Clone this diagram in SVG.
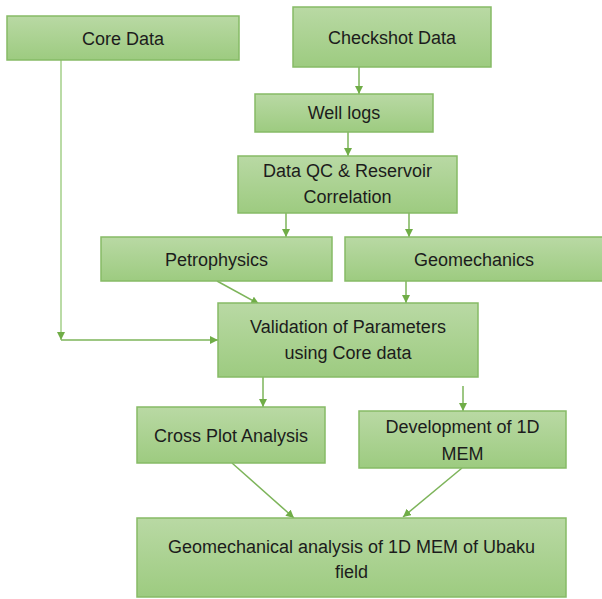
<svg xmlns="http://www.w3.org/2000/svg" width="602" height="599" viewBox="0 0 602 599">
  <defs>
    <linearGradient id="g" x1="0" y1="0" x2="0" y2="1">
      <stop offset="0" stop-color="#b9d9a4"/>
      <stop offset="1" stop-color="#9dcb80"/>
    </linearGradient>
    <marker id="ah" markerUnits="userSpaceOnUse" markerWidth="8" markerHeight="8" refX="8" refY="4" orient="auto">
      <path d="M0,0 L8,4 L0,8 z" fill="#70ad47"/>
    </marker>
    <style>
      .box { fill: url(#g); stroke: #86bb66; stroke-width: 1.5; }
      .t { font-family: "Liberation Sans", Arial, sans-serif; font-size: 18px; fill: #1c1c1c; text-anchor: middle; }
      .c { fill: none; stroke: #7db45a; stroke-width: 1.5; marker-end: url(#ah); }
      .cn { fill: none; stroke: #9fcb84; stroke-width: 2; }
    </style>
  </defs>
  <rect width="602" height="599" fill="#ffffff"/>

  <g id="connectors">
    <path class="c" d="M61,60 L61,340" style="stroke:#a3cf89"/>
    <path class="c" d="M61,340 L218,340"/>
    <path class="c" d="M359,67 L359,94"/>
    <path class="c" d="M348,132 L348,156"/>
    <path class="c" d="M286,213 L286,237"/>
    <path class="c" d="M409,213 L409,237"/>
    <path class="c" d="M217,281 L259,304"/>
    <path class="c" d="M406,281 L406,303"/>
    <path class="c" d="M263,377 L263,407"/>
    <path class="c" d="M463,386 L463,411"/>
    <path class="c" d="M232,463 L294,518"/>
    <path class="c" d="M462,468 L403,517"/>
  </g>

  <g id="core-data">
    <rect class="box" x="7" y="16" width="232" height="44"/>
    <text class="t" x="123" y="44.5">Core Data</text>
  </g>
  <g id="checkshot-data">
    <rect class="box" x="293" y="7" width="198" height="60"/>
    <text class="t" x="392" y="43.5">Checkshot Data</text>
  </g>
  <g id="well-logs">
    <rect class="box" x="255" y="94" width="178" height="38"/>
    <text class="t" x="344" y="119">Well logs</text>
  </g>
  <g id="data-qc">
    <rect class="box" x="238" y="156" width="219" height="57"/>
    <text class="t" x="347.5" y="177">Data QC &amp; Reservoir</text>
    <text class="t" x="347.5" y="203">Correlation</text>
  </g>
  <g id="petrophysics">
    <rect class="box" x="101" y="237" width="231" height="44"/>
    <text class="t" x="216.5" y="265.5">Petrophysics</text>
  </g>
  <g id="geomechanics">
    <rect class="box" x="345" y="237" width="258" height="44"/>
    <text class="t" x="474" y="265.5">Geomechanics</text>
  </g>
  <g id="validation">
    <rect class="box" x="218" y="303" width="260" height="74"/>
    <text class="t" x="348" y="333">Validation of Parameters</text>
    <text class="t" x="348" y="359">using Core data</text>
  </g>
  <g id="cross-plot">
    <rect class="box" x="137" y="407" width="188" height="56"/>
    <text class="t" x="231" y="441.5">Cross Plot Analysis</text>
  </g>
  <g id="development-1d-mem">
    <rect class="box" x="359" y="411" width="207" height="57"/>
    <text class="t" x="462.5" y="433">Development of 1D</text>
    <text class="t" x="462.5" y="460">MEM</text>
  </g>
  <g id="geomechanical-analysis">
    <rect class="box" x="137" y="518" width="429" height="79"/>
    <text class="t" x="351.5" y="553">Geomechanical analysis of 1D MEM of Ubaku</text>
    <text class="t" x="351.5" y="578">field</text>
  </g>
</svg>
